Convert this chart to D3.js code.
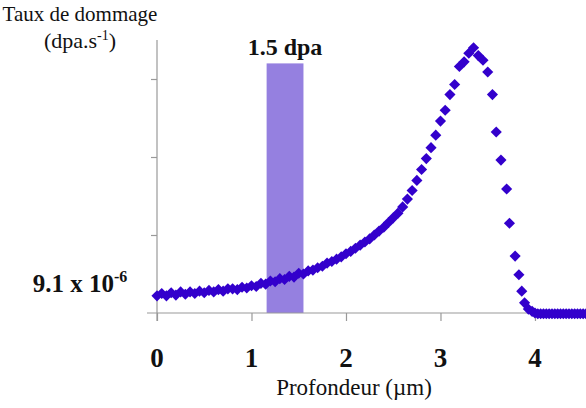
<!DOCTYPE html>
<html><head><meta charset="utf-8">
<script src="https://cdn.jsdelivr.net/npm/d3@7"></script>
<style>body{margin:0;background:#fff}svg{display:block}</style>
</head><body><svg id="c" width="586" height="408"></svg>
<script>
const depth = [0.00,0.05,0.10,0.15,0.20,0.25,0.30,0.35,0.40,0.45,0.50,0.55,0.60,0.65,0.70,0.75,0.80,0.85,0.90,0.95,
 1.00,1.05,1.10,1.15,1.20,1.25,1.30,1.35,1.40,1.45,1.50,1.55,1.60,1.65,1.70,1.75,1.80,1.85,1.90,1.95,
 2.00,2.05,2.10,2.15,2.20,2.25,2.30,2.35,2.40,2.45,2.50,2.55,2.60,2.65,2.70,2.75,2.80,2.85,2.90,2.95,
 3.00,3.05,3.10,3.15,3.20,3.25,3.30,3.35,3.40,3.45,3.50,3.55,3.59,3.64,3.70,3.73,3.79,3.83,3.86,3.89,
 3.93,3.97,4.00,4.03,4.06,4.09,4.12,4.15,4.18,4.21,4.24,4.27,4.30,4.33,4.36,4.39,4.42,4.45,4.48,4.51,4.54];
const rate = [0.22,0.25,0.22,0.26,0.23,0.27,0.24,0.27,0.25,0.28,0.26,0.29,0.27,0.30,0.28,0.31,0.31,0.30,0.33,0.32,
 0.35,0.34,0.38,0.37,0.41,0.40,0.44,0.43,0.47,0.46,0.51,0.50,0.54,0.55,0.58,0.60,0.64,0.66,0.69,0.72,
 0.76,0.79,0.83,0.87,0.91,0.95,1.00,1.05,1.10,1.16,1.22,1.28,1.36,1.46,1.57,1.70,1.84,1.98,2.12,2.28,
 2.46,2.60,2.80,2.93,3.16,3.22,3.33,3.40,3.30,3.24,3.09,2.80,2.32,1.96,1.59,1.15,0.73,0.49,0.28,0.13,
 0.05,0.02,0.0,-0.01,-0.01,-0.01,-0.01,-0.01,-0.01,-0.01,-0.01,-0.01,-0.01,-0.01,-0.01,-0.01,-0.01,-0.01,-0.01,-0.01,-0.01];
const xTicks = [0,1,2,3,4];
const yTicks = [0,1,2,3];
const band = [1.16, 1.55];
const bandLabel = "1.5 dpa";
const yLabel1 = "Taux de dommage";
const xLabel = "Profondeur (µm)";
const serif = "'Times New Roman', 'Liberation Serif', serif";

const svg = d3.select("#c");
const x = d3.scaleLinear().domain([0,4.54]).range([157,586]);
const y = d3.scaleLinear().domain([0,3.5]).range([313,40]);

// band
svg.append("rect").attr("x",x(band[0])).attr("width",x(band[1])-x(band[0]))
  .attr("y",y(3.2)).attr("height",y(0)-y(3.2)).attr("fill","#9580e0");

// axes
const ax = svg.append("g").attr("transform","translate(0,313)")
  .call(d3.axisBottom(x).tickValues(xTicks).tickSize(8).tickFormat(""));
ax.select(".domain").attr("d","M147,0H586");
const ay = svg.append("g").attr("transform","translate(157,0)")
  .call(d3.axisLeft(y).tickValues(yTicks.slice(1)).tickSize(6).tickFormat(""));
ay.select(".domain").attr("d","M0,40V321");
svg.selectAll(".domain,.tick line").attr("stroke","#999").attr("stroke-width",1.2);

// tick labels
svg.selectAll("text.xt").data(xTicks).join("text").attr("class","xt")
  .attr("x",d=>x(d)).attr("y",367).attr("text-anchor","middle").attr("font-family",serif)
  .attr("font-size",27).attr("font-weight","bold").attr("fill","#111").text(d=>d);

// points
const diamond = d3.symbol().type(d3.symbolSquare).size(62);
svg.append("g").selectAll("path").data(depth.map((d,i)=>[d,rate[i]])).join("path")
  .attr("d",diamond).attr("transform",d=>`translate(${x(d[0])},${y(d[1])}) rotate(45)`)
  .attr("fill","#3300cc");

// labels
const txt = (xx,yy,size,bold) => svg.append("text").attr("x",xx).attr("y",yy).attr("text-anchor","middle")
  .attr("font-family",serif).attr("font-size",size).attr("font-weight",bold?"bold":"normal").attr("fill","#111");
txt(x((band[0]+band[1])/2),55,24,true).text(bandLabel);
txt(80,21,21,false).text(yLabel1);
const t2 = txt(80,48,22,false);
t2.append("tspan").text("(dpa.s");
t2.append("tspan").attr("dy",-8).attr("font-size",14).text("-1");
t2.append("tspan").attr("dy",8).text(")");
const t3 = txt(80,292,25,true);
t3.append("tspan").text("9.1 x 10");
t3.append("tspan").attr("dy",-10).attr("font-size",16).text("-6");
txt(354,395,23,false).text(xLabel);
</script></body></html>
